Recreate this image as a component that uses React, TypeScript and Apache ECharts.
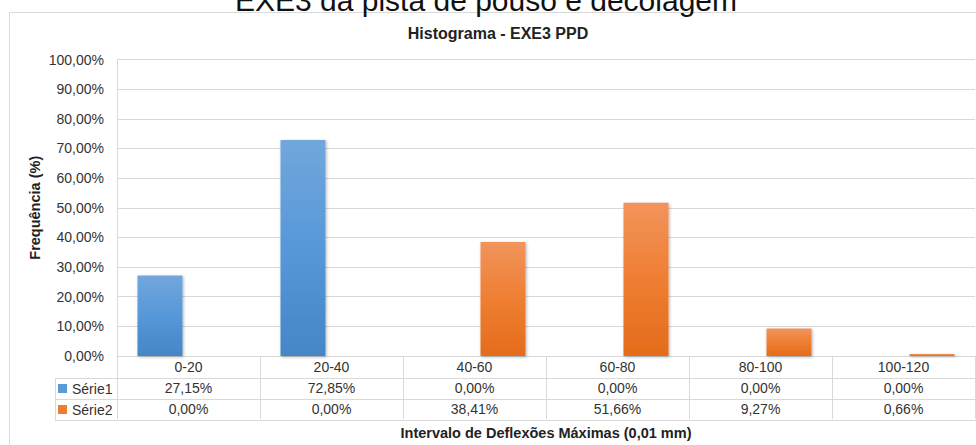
import React, { useEffect, useRef } from "react";
import * as echarts from "echarts";

const categories = ["0-20", "20-40", "40-60", "60-80", "80-100", "100-120"];
const serie1 = [27.15, 72.85, 0, 0, 0, 0];
const serie2 = [0, 0, 38.41, 51.66, 9.27, 0.66];
const seriesNames = ["Série1", "Série2"];
const yTicks = { min: 0, max: 100, interval: 10 };

const pct = (v: number) => v.toFixed(2).replace(".", ",") + "%";

export default function App() {
  const ref = useRef<HTMLDivElement>(null);
  useEffect(() => {
    if (!ref.current) return;
    const chart = echarts.init(ref.current, null, { renderer: "svg" });
    const font = "'Liberation Sans', Arial, sans-serif";
    const text = "#333333";
    const border = "#d9d9d9";
    const blue = new echarts.graphic.LinearGradient(0, 0, 0, 1, [
      { offset: 0, color: "#72a7dc" },
      { offset: 0.5, color: "#5698d8" },
      { offset: 1, color: "#4486c6" },
    ]);
    const orange = new echarts.graphic.LinearGradient(0, 0, 0, 1, [
      { offset: 0, color: "#f1945c" },
      { offset: 0.5, color: "#ef7e32" },
      { offset: 1, color: "#e46c1c" },
    ]);
    const shadow = {
      shadowBlur: 3,
      shadowColor: "rgba(0,0,0,0.3)",
      shadowOffsetX: 1,
      shadowOffsetY: 1,
    };
    const tableRows = [0, 1, 2, 3];
    chart.setOption({
      animation: false,
      textStyle: { fontFamily: font },
      grid: { left: 117, right: 1, top: 59.5, bottom: 88, containLabel: false },
      legend: {
        orient: "vertical",
        left: 58,
        top: 381.5,
        padding: 0,
        itemGap: 7,
        itemWidth: 9,
        itemHeight: 9,
        icon: "rect",
        selectedMode: false,
        textStyle: { fontSize: 14, color: text, fontFamily: font },
        data: [
          { name: seriesNames[0], itemStyle: { color: "#5b9bd5" } },
          { name: seriesNames[1], itemStyle: { color: "#ed7d31" } },
        ],
      },
      xAxis: {
        type: "category",
        data: categories,
        name: "Intervalo de Deflexões Máximas (0,01 mm)",
        nameLocation: "middle",
        nameGap: 69,
        nameMoveOverlap: false,
        nameTextStyle: { fontSize: 14.5, fontWeight: "bold", color: "#222", fontFamily: font },
        axisLine: { lineStyle: { color: border, width: 1 } },
        axisTick: { show: true, length: 63, lineStyle: { color: border } },
        axisLabel: {
          margin: 0,
          interval: 0,
          lineHeight: 21,
          fontSize: 14,
          color: text,
          fontFamily: font,
          formatter: (v: string, i: number) =>
            `{c|${v}}\n{c|${pct(serie1[i])}}\n{c|${pct(serie2[i])}}`,
          rich: { c: { fontSize: 14, lineHeight: 21, color: text, fontFamily: font } },
        },
      },
      yAxis: {
        type: "value",
        min: yTicks.min,
        max: yTicks.max,
        interval: yTicks.interval,
        name: "Frequência (%)",
        nameLocation: "middle",
        nameRotate: 90,
        nameGap: 75,
        nameMoveOverlap: false,
        nameTextStyle: { fontSize: 14.5, fontWeight: "bold", color: "#222", fontFamily: font },
        axisLine: { show: true, lineStyle: { color: border } },
        axisTick: { show: false },
        splitLine: { lineStyle: { color: border } },
        axisLabel: {
          margin: 13,
          fontSize: 14,
          color: text,
          fontFamily: font,
          formatter: (v: number) => pct(v),
        },
      },
      series: [
        {
          name: seriesNames[0],
          type: "bar",
          data: serie1,
          barWidth: 45,
          barGap: "26.7%",
          itemStyle: { color: blue, ...shadow },
        },
        {
          name: seriesNames[1],
          type: "bar",
          data: serie2,
          barWidth: 45,
          barGap: "26.7%",
          itemStyle: { color: orange, ...shadow },
        },
      ],
      graphic: [
        {
          type: "rect",
          shape: { x: 9.5, y: 12.5, width: 1000, height: 500 },
          style: { fill: "none", stroke: border, lineWidth: 1 },
          silent: true,
        },
        {
          type: "text",
          x: 486,
          y: 0,
          style: {
            text: "EXE3 da pista de pouso e decolagem",
            fontSize: 30,
            fontFamily: font,
            fill: "#111",
            textAlign: "center",
            textVerticalAlign: "middle",
          },
        },
        {
          type: "text",
          x: 498,
          y: 33,
          style: {
            text: "Histograma - EXE3 PPD",
            fontSize: 16,
            fontWeight: "bold",
            fontFamily: font,
            fill: "#222",
            textAlign: "center",
            textVerticalAlign: "middle",
          },
        },
        ...tableRows.slice(1).map((r) => ({
          type: "line",
          shape: { x1: 55, y1: 357.5 + r * 21, x2: 976, y2: 357.5 + r * 21 },
          style: { stroke: border, lineWidth: 1 },
          silent: true,
        })),
        {
          type: "line",
          shape: { x1: 55.5, y1: 378, x2: 55.5, y2: 420.5 },
          style: { stroke: border, lineWidth: 1 },
          silent: true,
        },
      ],
    });
    return () => chart.dispose();
  }, []);
  return (
    <div
      ref={ref}
      style={{ position: "fixed", left: 0, top: 0, width: 976, height: 445, background: "#fff" }}
    />
  );
}
